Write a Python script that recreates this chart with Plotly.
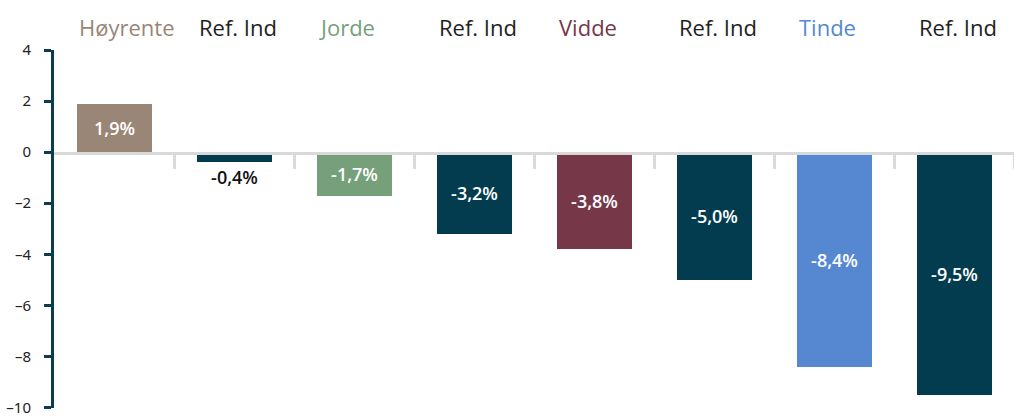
import plotly.graph_objects as go

categories = ["Høyrente", "Ref. Ind", "Jorde", "Ref. Ind", "Vidde", "Ref. Ind", "Tinde", "Ref. Ind"]
values = [1.9, -0.4, -1.7, -3.2, -3.8, -5.0, -8.4, -9.5]
bar_colors = ["#9a8677", "#023c4e", "#75a07a", "#023c4e", "#763749", "#023c4e", "#5588d1", "#023c4e"]
label_colors = ["#9a8677", "#222222", "#75a07a", "#222222", "#763749", "#222222", "#5588d1", "#222222"]
y_ticks = [4, 2, 0, -2, -4, -6, -8, -10]

texts = [f"{v:.1f}%".replace(".", ",") for v in values]
xs = list(range(len(categories)))
bar_width = 0.625

text_colors = ["#ffffff" if abs(v) > 1 else "#111111" for v in values]

fig = go.Figure()
fig.add_trace(go.Bar(
    x=xs, y=values, width=bar_width,
    marker=dict(color=bar_colors, line=dict(width=0)),
    text=texts, textposition=["inside" if abs(v) > 1 else "outside" for v in values],
    insidetextanchor="middle",
    textfont=dict(family="Open Sans", size=18, color=text_colors, weight=600),
    outsidetextfont=dict(family="Open Sans", size=18, color="#111111", weight=600),
    cliponaxis=False,
    hoverinfo="skip",
))

for i, (c, col) in enumerate(zip(categories, label_colors)):
    fig.add_annotation(
        x=i - bar_width / 2, xref="x", xanchor="left",
        y=1.064, yref="paper", yanchor="middle",
        text=c, showarrow=False,
        font=dict(family="Open Sans", size=22, color=col),
    )

y0_frac = 10 / 14.02
fig.update_layout(
    width=1014, height=417,
    margin=dict(l=54, r=0, t=50, b=5),
    plot_bgcolor="white", paper_bgcolor="white",
    showlegend=False,
    bargap=0,
    xaxis=dict(
        range=[-0.5, 7.5], showgrid=False, zeroline=False,
        tickvals=[k + 0.5 for k in range(8)], ticks="outside", ticklen=14,
        tickwidth=3, tickcolor="#d9d9d9", showticklabels=False,
        showline=True, linecolor="#d9d9d9", linewidth=3,
        anchor="free", position=y0_frac,
    ),
    yaxis=dict(
        range=[-10.02, 4], tickvals=y_ticks, ticktext=[str(t) if t >= 0 else "\u2013" + str(-t) for t in y_ticks],
        showgrid=False, zeroline=False,
        showline=True, linecolor="#0b3d4f", linewidth=3,
        ticks="outside", ticklen=7, tickwidth=3, tickcolor="#0b3d4f",
        ticklabelstandoff=10, ticklabeloverflow="allow",
        tickfont=dict(family="Noto Sans", size=15, color="#222222"),
    ),
)

fig.write_html("out.html", config={"displayModeBar": False},
               post_script="document.body.style.margin='0';document.body.style.overflow='hidden';")
